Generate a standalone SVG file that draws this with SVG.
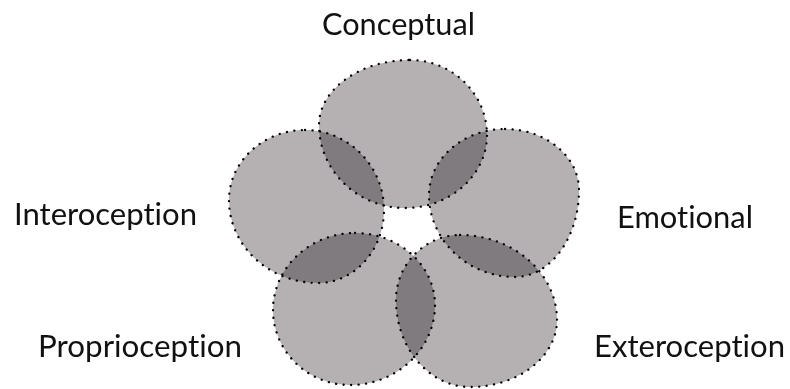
<svg xmlns="http://www.w3.org/2000/svg" width="790" height="389" viewBox="0 0 790 389">
<style>
.blob{fill:#b5b1b3;mix-blend-mode:multiply;stroke:#000;stroke-width:2.3;stroke-dasharray:0.1 7.4;stroke-linecap:round}
.lbl{font-family:"Lato","Liberation Sans",sans-serif;font-size:30px;fill:#111;font-variant-ligatures:none;font-feature-settings:"liga" 0}
</style>
<rect width="790" height="389" fill="#fff"/>
<g id="conceptual">
<path class="blob" d="M410,60 C452.4,60 487,93.8 487,135 C487,175.2 450.1,208 405,208 C357.7,208 319,170.7 319,125 C319,89.3 360,60 410,60 Z"/>
<text class="lbl" x="322" y="35" textLength="153" lengthAdjust="spacingAndGlyphs">Conceptual</text>
</g>
<g id="interoception">
<path class="blob" d="M305,130 C348.5,130 384,166 384,210 C384,250.2 354.3,283 318,283 C269,283 229,245.7 229,200 C229,161.5 263.2,130 305,130 Z"/>
<text class="lbl" x="14" y="225" textLength="183" lengthAdjust="spacingAndGlyphs">Interoception</text>
</g>
<g id="emotional">
<path class="blob" d="M505,129 C545.7,129 579,156.5 579,190 C579,237.9 550.2,277 515,277 C467.7,277 429,240.1 429,195 C429,158.7 463.2,129 505,129 Z"/>
<text class="lbl" x="617" y="228" textLength="136" lengthAdjust="spacingAndGlyphs">Emotional</text>
</g>
<g id="proprioception">
<path class="blob" d="M355,233 C399,233 435,265.4 435,305 C435,349 396.8,385 350,385 C307.7,385 273,351.3 273,310 C273,267.7 309.9,233 355,233 Z"/>
<text class="lbl" x="38" y="357" textLength="204" lengthAdjust="spacingAndGlyphs">Proprioception</text>
</g>
<g id="exteroception">
<path class="blob" d="M460,235 C513.4,235 557,273.3 557,320 C557,356.9 517.9,387 470,387 C429.3,387 396,347.9 396,300 C396,264.3 424.8,235 460,235 Z"/>
<text class="lbl" x="594" y="357" textLength="191" lengthAdjust="spacingAndGlyphs">Exteroception</text>
</g>
<g id="connectors"/>
</svg>
